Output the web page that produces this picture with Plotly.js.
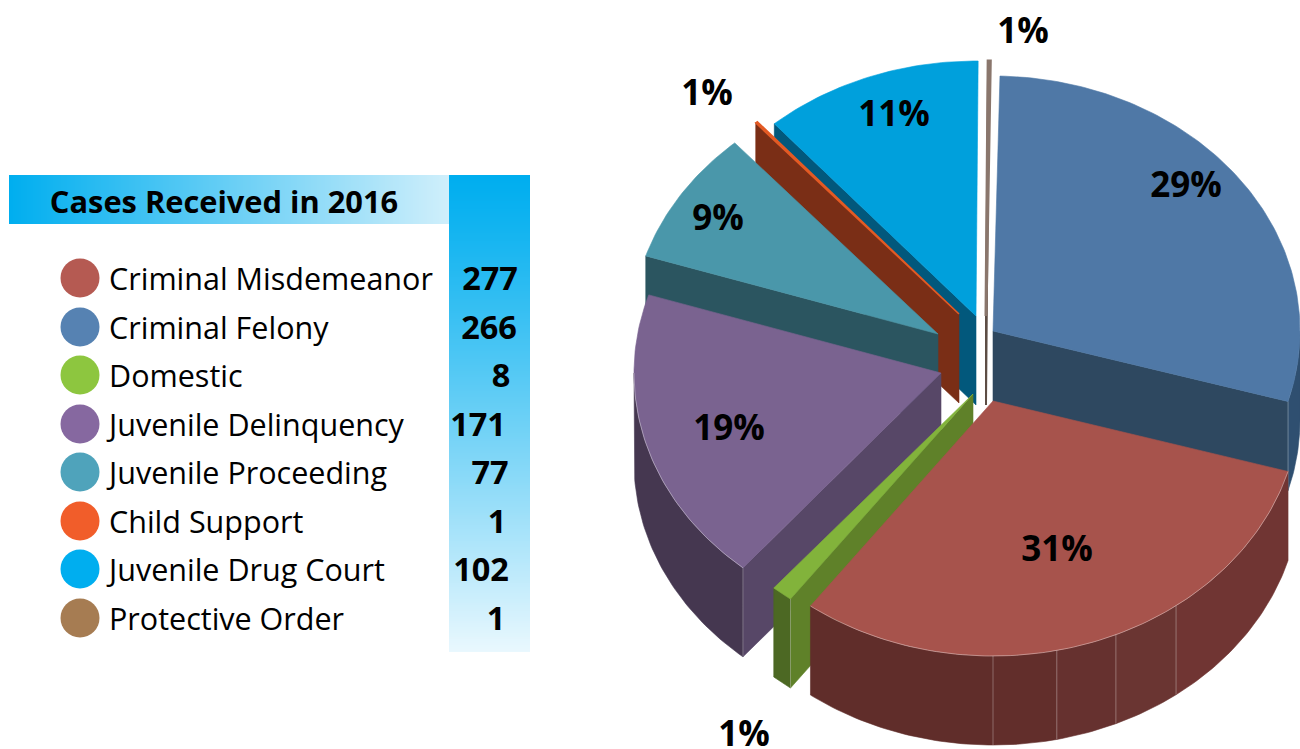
<!DOCTYPE html>
<html><head><meta charset="utf-8">
<script src="https://cdn.plot.ly/plotly-3.0.1.min.js"></script>
<style>html,body{margin:0;padding:0;background:#fff}#c{width:1300px;height:749px}</style>
</head><body><div id="c"></div>
<script>
// ---- data ----
const categories = ['Criminal Misdemeanor','Criminal Felony','Domestic','Juvenile Delinquency','Juvenile Proceeding','Child Support','Juvenile Drug Court','Protective Order'];
const cases = [277,266,8,171,77,1,102,1];
const pctLabels = ['31%','29%','1%','19%','9%','1%','11%','1%'];
const chartTitle = 'Cases Received in 2016';
// ---- styling / layout ----
const legendColors = ['#b55a52','#5682b2','#8dc63f','#8668a0','#4fa3bb','#f15d2a','#00aeef','#a67c52'];
const topColors  = ['#a7534c','#4f78a6','#82b33b','#7a6390','#4a97aa','#e35a24','#00a0dc','#8a766c'];
const sideColors = ['#622e2b','#2e4860','#5f8129','#574767','#2b5560','#7a2e16','#02587c','#5d4d45'];
const rimColors  = ['#662f2d','#2f4f70','#4c6823','#453750','#2b5560','#7a2e16','#02587c','#5d4d45'];
const apexes = [[993,401],[993,331],[973,394],[941,373],[938,334],[959,314],[976,316],[986,316]];
const sliceOrder = [1,0,2,3,4,5,6,7];          // clockwise from the top
const paintOrder = [7,6,5,4,3,1,2,0];          // back to front
const edgeTrim = {1:[1.3,0],2:[0,0.8],3:[0.5,0],6:[0,0.8],7:[0.8,0.8]}; // small drawing offsets at slice edges, degrees
const seamAngles = [143.4,156.4,168,180];      // facets on the misdemeanor rim
const seamShades = ['#703533','#6a3532','#66312f','#622e2b','#602d2a'];
const labelPos = [[1057,552],[1186,188],[744,737],[729,431],[718,221],[707,96],[894,117],[1023,34]];
const rowY = [278,327,375,424,472,521,569,618];
const TEXT_DY = 4;
const numX = [490,489,501,478,490,497,481,496];
const RX=307, RY=255, H=89, ROT=0;
const FONT='"Open Sans", sans-serif';

const total = cases.reduce((a,b)=>a+b,0);
const pt=(a,t,dy=0)=>{const r=t*Math.PI/180;return [a[0]+RX*Math.sin(r), a[1]-RY*Math.cos(r)+dy];};
const arc=(a,t0,t1,dy=0)=>{const n=Math.max(2,Math.ceil(Math.abs(t1-t0)));const o=[];for(let i=0;i<=n;i++)o.push(pt(a,t0+(t1-t0)*i/n,dy));return o;};
const poly=(name,pts,color,w=0.6)=>({type:'scatter',mode:'lines',name,x:pts.map(p=>p[0]).concat(pts[0][0]),y:pts.map(p=>p[1]).concat(pts[0][1]),fill:'toself',fillcolor:color,line:{color,width:w},hoverinfo:'skip',showlegend:false});
const line=(pts,color,w=1)=>({type:'scatter',mode:'lines',x:pts.map(p=>p[0]),y:pts.map(p=>p[1]),line:{color,width:w},hoverinfo:'skip',showlegend:false});

// angles from the values
const ang={};let cum=ROT;
sliceOrder.forEach(i=>{const s=cases[i]/total*360;const tr=edgeTrim[i]||[0,0];ang[i]=[cum+tr[0],cum+s+tr[1]];cum+=s;});

const traces=[];
paintOrder.forEach(i=>{
  const a=apexes[i],[t0,t1]=ang[i],name=categories[i];
  const edgeT = (i===1)? t1 : t0;
  const p=pt(a,edgeT);
  if(i!==0) traces.push(poly(name+' wall',[a,p,[p[0],p[1]+H],[a[0],a[1]+H]],sideColors[i],i===7?2:0.6));
  if(i===0){
    const b=[t0].concat(seamAngles,[t1]);
    for(let k=0;k<b.length-1;k++){
      traces.push(poly(name+' rim',arc(a,b[k],b[k+1]).concat(arc(a,b[k+1],b[k],H)),seamShades[k]));
    }
  } else if(i===1||i===2||i===3){
    const from=(i===1)?90:t0, to=(i===1)?t1:Math.min(t1,(i===3?270:t1));
    traces.push(poly(name+' rim',arc(a,from,to).concat(arc(a,to,from,H)),rimColors[i]));
  }
  traces.push(poly(name,[a].concat(arc(a,t0,t1)),topColors[i],i===7?3:(i===5?1.6:0.6)));
  if(i===0){
    seamAngles.forEach(t=>{const q=pt(a,t);traces.push(line([q,[q[0],q[1]+H]],'rgba(255,255,255,0.3)'));});
    traces.push(line(arc(a,t0,t1),'rgba(255,255,255,0.35)'));
  }
  if(i===1||i===2||i===3){
    const q=pt(a,edgeT);traces.push(line([q,[q[0],q[1]+H]],'rgba(255,255,255,0.3)'));
  }
  if(i===3) traces.push(line(arc(a,t0,270),'rgba(255,255,255,0.35)'));
});

// percentage labels
traces.push({type:'scatter',mode:'text',x:labelPos.map(p=>p[0]),y:labelPos.map(p=>p[1]),text:pctLabels,textposition:'middle center',
  textfont:{family:FONT,size:35,color:'#000',weight:700},hoverinfo:'skip',showlegend:false,cliponaxis:false});
// legend
traces.push({type:'scatter',mode:'markers',x:categories.map(()=>80),y:rowY,marker:{size:39,color:legendColors,line:{width:0}},text:categories,hoverinfo:'text',showlegend:false});
traces.push({type:'scatter',mode:'text',x:categories.map(()=>109),y:rowY.map(y=>y+TEXT_DY),text:categories,textposition:'middle right',
  textfont:{family:FONT,size:30.5,color:'#000'},hoverinfo:'skip',showlegend:false});
traces.push({type:'scatter',mode:'text',x:numX,y:rowY.map(y=>y+TEXT_DY),text:cases.map(String),textposition:'middle center',
  textfont:{family:FONT,size:32.5,color:'#000',weight:700},hoverinfo:'skip',showlegend:false});
traces.push({type:'scatter',mode:'text',x:[224],y:[205],text:[chartTitle],textposition:'middle center',
  textfont:{family:FONT,size:30.8,color:'#000',weight:700},hoverinfo:'skip',showlegend:false});

// gradients
const mix=(c0,c1,f)=>'rgb('+c0.map((v,i)=>Math.round(v+(c1[i]-v)*f)).join(',')+')';
const shapes=[];
for(let x=9;x<449;x+=2) shapes.push({type:'rect',layer:'below',x0:x,x1:x+2.5,y0:175,y1:224,line:{width:0},fillcolor:mix([0,174,239],[208,239,251],(x-9)/440)});
for(let y=175;y<652;y+=2) shapes.push({type:'rect',layer:'below',x0:449,x1:530,y0:y,y1:Math.min(652,y+2.5),line:{width:0},fillcolor:mix([0,174,239],[234,248,254],Math.pow((y-175)/477,1.15))});

Plotly.newPlot('c',traces,{
  width:1300,height:749,margin:{l:0,r:0,t:0,b:0},paper_bgcolor:'#fff',plot_bgcolor:'#fff',showlegend:false,
  xaxis:{range:[0,1300],visible:false,fixedrange:true},
  yaxis:{range:[749,0],visible:false,fixedrange:true},
  shapes
},{displayModeBar:false});
</script></body></html>
